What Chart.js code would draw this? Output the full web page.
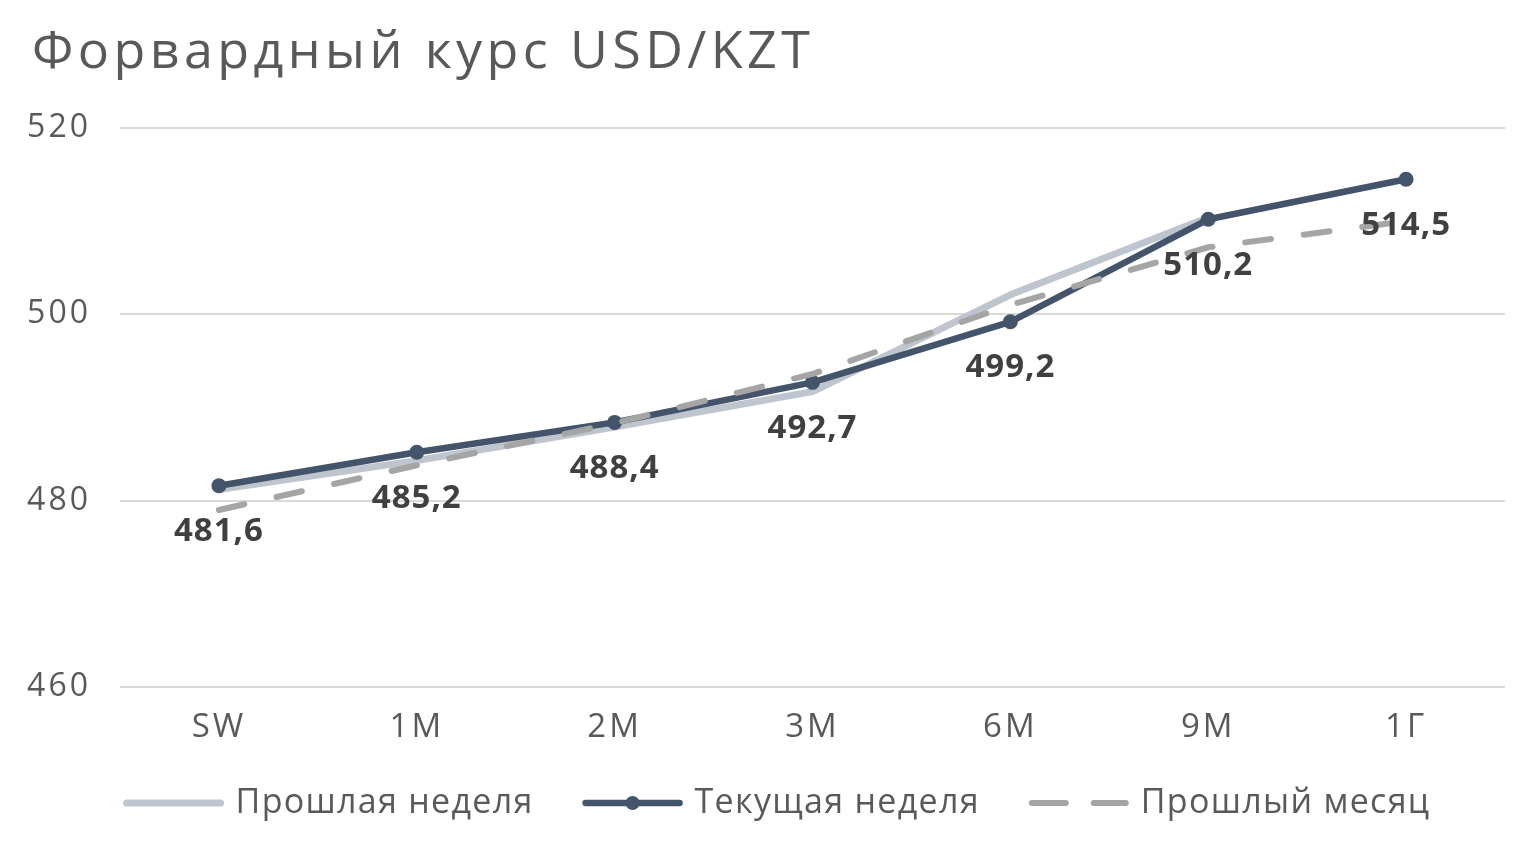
<!DOCTYPE html>
<html>
<head>
<meta charset="utf-8">
<script src="https://cdn.jsdelivr.net/npm/chart.js@4.4.1/dist/chart.umd.min.js"></script>
<style>
  html, body { margin: 0; padding: 0; background: #ffffff; }
  #wrap { width: 1537px; height: 841px; position: relative; }
</style>
</head>
<body>
<div id="wrap"><canvas id="c" width="1537" height="841"></canvas></div>
<script>
const titleText = 'Форвардный курс USD/KZT';
const categories = ['SW', '1M', '2M', '3M', '6M', '9M', '1Г'];
const lastWeek = [481.2, 484.3, 487.9, 491.7, 502.1, 510.4, null];
const currentWeek = [481.6, 485.2, 488.4, 492.7, 499.2, 510.2, 514.5];
const lastMonth = [479.0, 483.8, 488.3, 493.6, 501.0, 507.2, 510.0];
const seriesNames = ['Прошлая неделя', 'Текущая неделя', 'Прошлый месяц'];
const yMin = 460, yMax = 520, yStep = 20;

const FONT = "'Open Sans', 'Noto Sans', sans-serif";
const TEXT = '#595959';
const COL_LIGHT = '#BFC5CF';
const COL_DARK = '#44546A';
const COL_DASH = '#A5A5A5';

const fmt = v => v.toFixed(1).replace('.', ',');

// The reference font is wide: add letter spacing to title and axis ticks,
// and indent the title box to x = 32.
const spacingPlugin = {
  id: 'spacing',
  afterLayout(chart) {
    const tb = chart.titleBlock;
    if (tb) {
      tb.left = 32;
      if (!tb._wrapped) {
        const orig = tb.draw;
        tb.draw = function (area) {
          const ctx = chart.ctx;
          const prev = ctx.letterSpacing;
          ctx.letterSpacing = '4.4px';
          orig.call(this, area);
          ctx.letterSpacing = prev;
        };
        tb._wrapped = true;
      }
    }
  },
  beforeDraw(chart) { chart.ctx.letterSpacing = '3px'; },
  beforeDatasetsDraw(chart) { chart.ctx.letterSpacing = '0px'; }
};

const labelPlugin = {
  id: 'pointLabels',
  afterDatasetsDraw(chart) {
    const ctx = chart.ctx;
    const meta = chart.getDatasetMeta(1);
    ctx.save();
    ctx.letterSpacing = '1px';
    ctx.font = "bold 33px " + FONT;
    ctx.fillStyle = '#404040';
    ctx.textAlign = 'center';
    ctx.textBaseline = 'middle';
    meta.data.forEach((el, i) => {
      const v = chart.data.datasets[1].data[i];
      if (v == null) return;
      ctx.fillText(fmt(v), el.x, el.y + 46);
    });
    ctx.restore();
  }
};

const legendPlugin = {
  id: 'customLegend',
  afterDraw(chart) {
    const ctx = chart.ctx;
    ctx.save();
    ctx.letterSpacing = '1.3px';
    ctx.font = "34px " + FONT;
    const sampleW = 102, gapText = 11, gapItem = 48;
    const widths = seriesNames.map(n => ctx.measureText(n).width);
    const total = widths.reduce((a, b) => a + b, 0) + 3 * (sampleW + gapText) + 2 * gapItem;
    let x = (chart.chartArea.left + chart.chartArea.right - total) / 2 - 36;
    const y = 803;
    chart.data.datasets.forEach((ds, i) => {
      ctx.save();
      ctx.strokeStyle = ds.borderColor;
      ctx.lineWidth = ds.borderWidth;
      ctx.lineCap = 'round';
      if (ds.borderDash && ds.borderDash.length) ctx.setLineDash([34, 28]);
      ctx.beginPath();
      ctx.moveTo(x + 4, y);
      ctx.lineTo(x + sampleW - 4, y);
      ctx.stroke();
      if (ds.pointRadius > 0) {
        ctx.setLineDash([]);
        ctx.fillStyle = ds.borderColor;
        ctx.beginPath();
        ctx.arc(x + sampleW / 2, y, 7, 0, Math.PI * 2);
        ctx.fill();
      }
      ctx.restore();
      ctx.fillStyle = TEXT;
      ctx.textAlign = 'left';
      ctx.textBaseline = 'middle';
      ctx.fillText(seriesNames[i], x + sampleW + gapText, y);
      x += sampleW + gapText + widths[i] + gapItem;
    });
    ctx.restore();
  }
};

new Chart(document.getElementById('c'), {
  type: 'line',
  data: {
    labels: categories,
    datasets: [
      {
        label: seriesNames[0], data: lastWeek,
        borderColor: COL_LIGHT, backgroundColor: COL_LIGHT,
        borderWidth: 7, pointRadius: 0, pointHoverRadius: 0,
        borderCapStyle: 'round', borderJoinStyle: 'round',
        tension: 0, order: 2
      },
      {
        label: seriesNames[1], data: currentWeek,
        borderColor: COL_DARK, backgroundColor: COL_DARK,
        borderWidth: 6.5, pointRadius: 7.5, pointHoverRadius: 7.5,
        pointBackgroundColor: COL_DARK, pointBorderColor: COL_DARK, pointBorderWidth: 0,
        borderCapStyle: 'round', borderJoinStyle: 'round',
        tension: 0, order: 1
      },
      {
        label: seriesNames[2], data: lastMonth,
        borderColor: COL_DASH, backgroundColor: COL_DASH,
        borderWidth: 6, pointRadius: 0, pointHoverRadius: 0,
        borderDash: [26, 33], borderCapStyle: 'round', borderJoinStyle: 'round',
        tension: 0, order: 0
      }
    ]
  },
  options: {
    responsive: false,
    animation: false,
    events: [],
    layout: { padding: { left: 0, right: 32, top: 0, bottom: 0 } },
    plugins: {
      legend: { display: false },
      tooltip: { enabled: false },
      title: {
        display: true,
        text: titleText,
        align: 'start',
        color: TEXT,
        font: { family: FONT, size: 52, weight: 'normal', lineHeight: 1.2 },
        padding: { top: 22, bottom: 43.6 }
      }
    },
    scales: {
      x: {
        type: 'category',
        offset: true,
        grid: { display: false, drawTicks: false },
        border: { display: false },
        ticks: { color: TEXT, font: { family: FONT, size: 33 }, padding: 21, maxRotation: 0 },
        afterFit(scale) { scale.height = 154; }
      },
      y: {
        min: yMin, max: yMax,
        grid: { color: '#D9D9D9', lineWidth: 2, drawTicks: false },
        border: { display: false },
        ticks: { stepSize: yStep, color: TEXT, font: { family: FONT, size: 32 }, padding: 29 },
        afterFit(scale) { scale.width = 120; }
      }
    }
  },
  plugins: [spacingPlugin, labelPlugin, legendPlugin]
});
</script>
</body>
</html>
